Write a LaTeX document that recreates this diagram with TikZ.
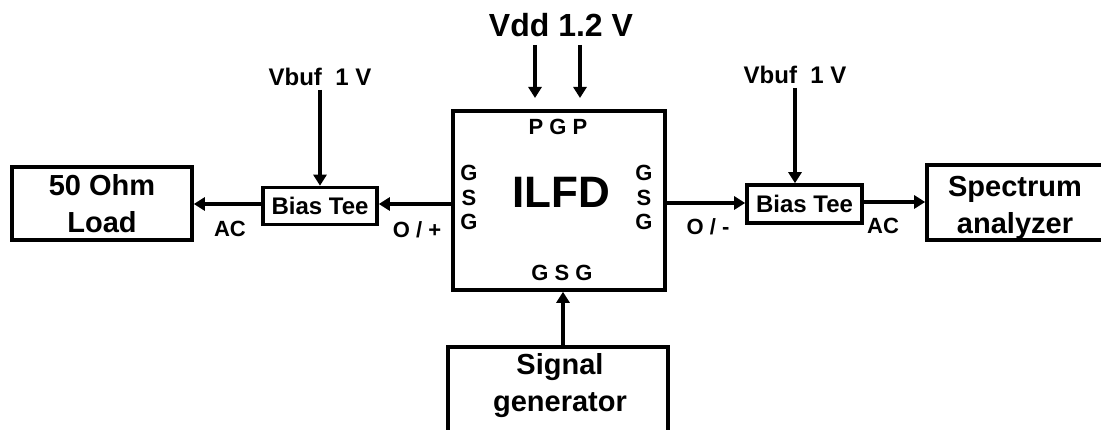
\documentclass[tikz,border=0pt]{standalone}
\usepackage{fontspec}
\setmainfont{Liberation Sans}
\usetikzlibrary{arrows.meta}
\tikzset{
  box/.style={draw, line width=3.6pt, inner sep=0pt, align=center},
  arr/.style={line width=3.6pt, -{Triangle[length=11pt,width=13pt]}},
  lab/.style={inner sep=0pt, font=\fontsize{22}{24.5}\selectfont\bfseries, align=center},
  big/.style={font=\fontsize{29}{37}\selectfont\bfseries},
  mid/.style={font=\fontsize{24}{28}\selectfont\bfseries},
}
\begin{document}
\begin{tikzpicture}[x=1pt,y=-1pt]
\useasboundingbox (0,0) rectangle (1101,430);
\clip (0,0) rectangle (1101,430);
% boxes
\node[box, minimum width=212pt, minimum height=179pt] (ilfd) at (559,200.5) {};
\node[box, big, minimum width=180pt, minimum height=73pt] (load) at (102,203.5) {50 Ohm\\Load};
\node[box, mid, minimum width=114pt, minimum height=37pt] (btl) at (320,206) {Bias Tee};
\node[box, mid, minimum width=115pt, minimum height=38pt] (btr) at (804.5,204) {Bias Tee};
\node[box, minimum width=176pt, minimum height=75pt] (spec) at (1015,202.5) {};
\node[box, minimum width=220pt, minimum height=120pt, anchor=north] (sig) at (558,345) {};
\node[big, align=center, inner sep=0pt] (spectxt) at (1015,208) {Spectrum\\analyzer};
\node[big, align=center, inner sep=0pt] (sigtxt) at (560,386) {Signal\\generator};
% ILFD inner labels
\node[inner sep=0pt, font=\fontsize{44}{50}\selectfont\bfseries] (ilfdtxt) at (561,192) {ILFD};
\node[lab] (pgp) at (558,127) {P G P};
\node[lab] (gsgb) at (562,273) {G S G};
\node[lab] (gsgl) at (469,197.5) {G\\S\\G};
\node[lab] (gsgr) at (644,197.5) {G\\S\\G};
% supply labels
\node[inner sep=0pt, font=\fontsize{32}{36}\selectfont\bfseries] (vdd) at (561,25) {Vdd 1.2 V};
\node[inner sep=0pt, font=\fontsize{24}{28}\selectfont\bfseries] (vbl) at (320,77) {Vbuf\ \ 1 V};
\node[inner sep=0pt, font=\fontsize{24}{28}\selectfont\bfseries] (vbr) at (795,75) {Vbuf\ \ 1 V};
% supply arrows
\coordinate (v1s) at (535,45);
\coordinate (v1e) at (535,98);
\coordinate (v2s) at (580,45);
\coordinate (v2e) at (580,98);
\draw[arr] (v1s) -- (v1e);
\draw[arr] (v2s) -- (v2e);
\coordinate (vls) at (320,90);
\coordinate (vrs) at (795,88);
\draw[arr] (vls) -- (vls |- btl.north);
\draw[arr] (vrs) -- (vrs |- btr.north);
% signal path
\draw[arr] (ilfd.west |- 0,204) -- (btl.east |- 0,204);
\draw[arr] (btl.west |- 0,204) -- (load.east |- 0,204);
\draw[arr] (ilfd.east |- 0,203) -- (btr.west |- 0,203);
\draw[arr] (btr.east |- 0,202) -- (spec.west |- 0,202);
\draw[arr] (sig.north -| 563,0) -- (ilfd.south -| 563,0);
% connector labels
\node[lab] (op) at (417,230) {O / +};
\node[lab] (acl) at (230,229) {AC};
\node[lab] (om) at (708,227) {O / -};
\node[lab] (acr) at (883,226) {AC};
\end{tikzpicture}
\end{document}
